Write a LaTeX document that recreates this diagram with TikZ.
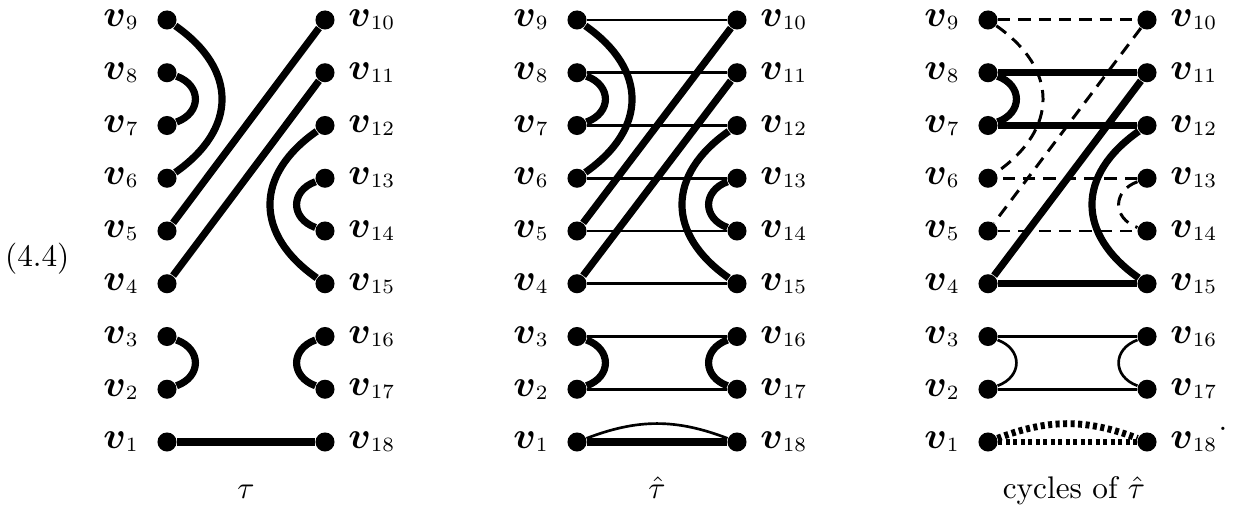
\documentclass[tikz,border=0pt]{standalone}
\usepackage{tikz}
\usetikzlibrary{positioning}
\usepackage{amsmath}
\usepackage{bm}

\newcommand{\vlab}[1]{{\fontsize{13}{13}\selectfont$\bm{v}$}\raisebox{-1pt}{\fontsize{6.5}{7}\selectfont #1}}

\begin{document}
\begin{tikzpicture}[x=0.32pt, y=0.32pt,
  dot/.style={circle, fill, inner sep=0pt, minimum size=6.1pt},
  lab/.style={inner sep=0pt},
  heavy/.style={line width=2.3pt},
  light/.style={line width=0.85pt},
  dashedge/.style={line width=0.95pt, dash pattern=on 3.9pt off 2.6pt},
  dotedge/.style={line width=2.2pt, dash pattern=on 1.3pt off 1.1pt},
  bigarc/.style={looseness=1.33},
  smallarc/.style={looseness=1.5}]
  \useasboundingbox (0,0) rectangle (1235,510);

  % vertices: a = tau, b = tau hat, c = cycles
  \foreach \d/\xl/\xr in {a/167/325, b/577/737, c/988/1147} {
    \foreach \k in {1,...,9} {
      \pgfmathtruncatemacro{\j}{19-\k}
      \node[dot] (\d\k) at (\xl, {68+(\k-1)*52.75}) {};
      \node[dot] (\d\j) at (\xr, {68+(\k-1)*52.75}) {};
      \node[lab, left=6pt of \d\k] (l\d\k) {\vlab{\k}};
      \node[lab, right=4pt of \d\j] (l\d\j) {\vlab{\j}};
    }
  }

  % --- tau ---
  \draw[heavy] (a9) to[out=-35, in=35, bigarc] (a6);
  \draw[heavy] (a8) to[out=-20, in=20, smallarc] (a7);
  \draw[heavy] (a5) -- (a10);
  \draw[heavy] (a4) -- (a11);
  \draw[heavy] (a12) to[out=-145, in=145, bigarc] (a15);
  \draw[heavy] (a13) to[out=-160, in=160, smallarc] (a14);
  \draw[heavy] (a3) to[out=-20, in=20, smallarc] (a2);
  \draw[heavy] (a16) to[out=-160, in=160, smallarc] (a17);
  \draw[heavy] (a1) -- (a18);

  % --- tau hat ---
  \foreach \p/\q in {9/10, 8/11, 7/12, 6/13, 5/14, 4/15, 3/16, 2/17}
    \draw[light] (b\p) -- (b\q);
  \draw[light] (b1) to[bend left=21] (b18);
  \draw[heavy] (b9) to[out=-35, in=35, bigarc] (b6);
  \draw[heavy] (b8) to[out=-20, in=20, smallarc] (b7);
  \draw[heavy] (b5) -- (b10);
  \draw[heavy] (b4) -- (b11);
  \draw[heavy] (b12) to[out=-145, in=145, bigarc] (b15);
  \draw[heavy] (b13) to[out=-160, in=160, smallarc] (b14);
  \draw[heavy] (b3) to[out=-20, in=20, smallarc] (b2);
  \draw[heavy] (b16) to[out=-160, in=160, smallarc] (b17);
  \draw[heavy] (b1) -- (b18);

  % --- cycles of tau hat ---
  % dashed cycle
  \draw[dashedge] (c9) -- (c10);
  \draw[dashedge] (c10) -- (c5);
  \draw[dashedge] (c5) -- (c14);
  \draw[dashedge] (c13) to[out=-160, in=160, smallarc] (c14);
  \draw[dashedge] (c13) -- (c6);
  \draw[dashedge] (c9) to[out=-35, in=35, bigarc] (c6);
  % heavy cycle
  \draw[heavy] (c8) -- (c11);
  \draw[heavy] (c7) -- (c12);
  \draw[heavy] (c4) -- (c15);
  \draw[heavy] (c4) -- (c11);
  \draw[heavy] (c8) to[out=-20, in=20, smallarc] (c7);
  \draw[heavy] (c12) to[out=-145, in=145, bigarc] (c15);
  % light cycle
  \draw[light] (c3) -- (c16);
  \draw[light] (c2) -- (c17);
  \draw[light] (c3) to[out=-20, in=20, smallarc] (c2);
  \draw[light] (c16) to[out=-160, in=160, smallarc] (c17);
  % dotted cycle
  \draw[dotedge] (c1) -- (c18);
  \draw[dotedge] (c1) to[bend left=21] (c18);

  % captions
  \node[anchor=base] (capa) at (246,11) {$\tau$};
  \node[anchor=base] (capb) at (657,11) {$\hat{\tau}$};
  \node[anchor=base] (capc) at (1074,11) {cycles of $\hat{\tau}$};
  \node[anchor=base east, inner sep=0pt] (eqno) at (70,243) {(4.4)};
  \node[anchor=base, inner sep=0pt] (stop) at (1223,79) {.};
\end{tikzpicture}
\end{document}
